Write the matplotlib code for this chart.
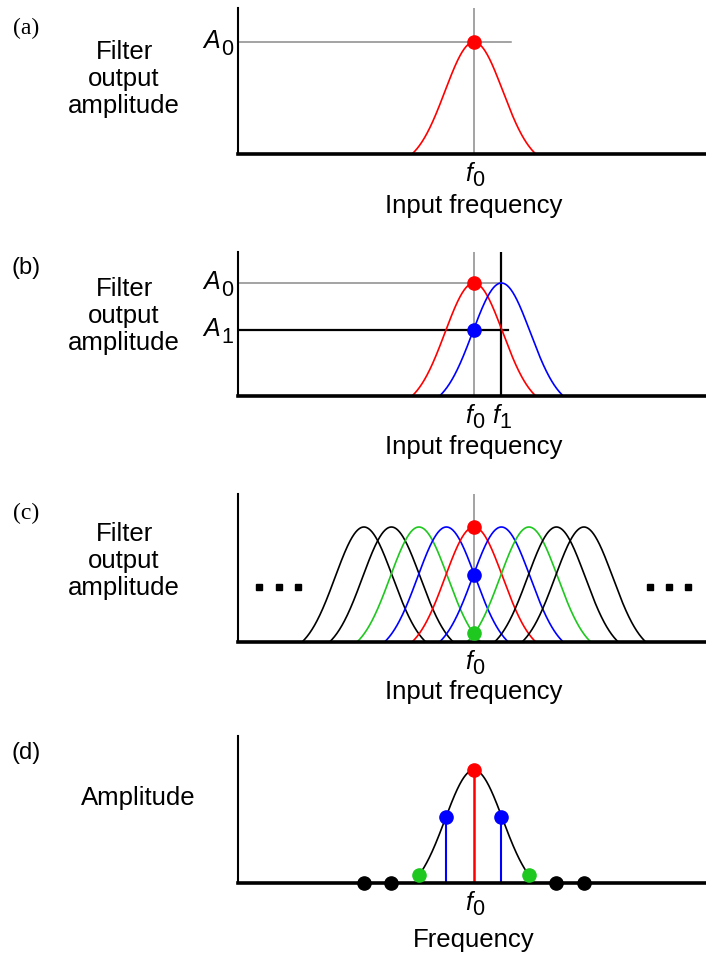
import numpy as np
import matplotlib
matplotlib.use("Agg")
from matplotlib import pyplot as plt
from matplotlib import transforms

plt.rcParams['font.family'] = ['Liberation Sans', 'DejaVu Sans']

RED, BLUE, GREEN, GREY = '#ff0000', '#0000ff', '#1ec81e', '#8a8a8a'

# frequencies in units of the filter spacing, f0 = 0
centres_b = [0, 1]
colours_b = [RED, BLUE]
A1 = 0.58

centres_c = [-4, -3, -2, -1, 0, 1, 2, 3, 4]
colours_c = ['black', 'black', GREEN, BLUE, RED, BLUE, GREEN, 'black', 'black']

# filter outputs at f0 (panel c)
out_amps = [1.0, 0.58, 0.075]
out_cols = [RED, BLUE, GREEN]

# output spectrum (panel d)
harm_freqs = [-4, -3, -2, -1, 0, 1, 2, 3, 4]
harm_amps = [0, 0, 0.075, 0.58, 1.0, 0.58, 0.075, 0, 0]
harm_cols = ['black', 'black', GREEN, BLUE, RED, BLUE, GREEN, 'black', 'black']

ellipsis_x = [-7.8, -7.1, -6.4, 6.4, 7.1, 7.8]
ellipsis_y = 0.48

# filter shape: width and where it meets the axis
sigma = 1.05
support = 2.25


def response(fc, lo=None, hi=None):
    lo = fc - support if lo is None else lo
    hi = fc + support if hi is None else hi
    x = np.linspace(lo, hi, 300)
    base = np.exp(-support**2 / (2 * sigma**2))
    y = (np.exp(-(x - fc)**2 / (2 * sigma**2)) - base) / (1 - base)
    return x, y


W, H = 706, 955
fig = plt.figure(figsize=(W / 100, H / 100), dpi=100)


def make_ax(top_px, axis_px, peak_px):
    ax = fig.add_axes([238 / W, 1 - axis_px / H, 1 - 238 / W, (axis_px - top_px) / H])
    ax.set_xlim(-8.58, 8.44)
    ax.set_ylim(0, (axis_px - top_px) / (axis_px - peak_px))
    for s in ['top', 'right']:
        ax.spines[s].set_visible(False)
    ax.spines['left'].set_linewidth(1.5)
    ax.spines['bottom'].set_linewidth(2.6)
    ax.set_xticks([])
    ax.set_yticks([])
    return ax


def sym(ax, trans, x, y, main, sub, dx, dy, sdx, sdy, ha):
    # italic letter with a large upright subscript, offsets in pixels
    t = transforms.offset_copy(trans, fig=fig, x=dx, y=-dy, units='dots')
    ax.text(x, y, main, transform=t, ha=ha, va='baseline', fontsize=18,
            style='italic', clip_on=False)
    t = transforms.offset_copy(trans, fig=fig, x=sdx, y=-sdy, units='dots')
    ax.text(x, y, sub, transform=t, ha='left', va='baseline', fontsize=15.5,
            clip_on=False)


def xsym(ax, x, main, sub):
    tr = ax.get_xaxis_transform()
    sym(ax, tr, x, 0, main, sub, -2, 27, -2, 32, 'right')


def ysym(ax, y, main, sub):
    tr = ax.get_yaxis_transform()
    sym(ax, tr, 0, y, main, sub, -18, 6, -17, 13, 'right')


def ftext(x, y, s, **kw):
    kw.setdefault('fontsize', 18.5)
    fig.text(x / W, 1 - y / H, s, ha='center', va='center', **kw)


dot = dict(marker='o', markersize=9.5, clip_on=False, zorder=5, linestyle='none')
left_label = 'Filter\noutput\namplitude'

# (a)
ax = make_ax(8, 154, 42)
ax.axvline(0, color=GREY, lw=1.1, zorder=1)
ax.plot([-8.58, 1.35], [1, 1], color=GREY, lw=1.1, zorder=1)
x, y = response(0)
ax.plot(x, y, color=RED, lw=1.2)
ax.plot([0], [1], color=RED, **dot)
xsym(ax, 0, 'f', '0')
ysym(ax, 1, 'A', '0')
ftext(474, 206, 'Input frequency')
ftext(26, 28, '(a)', family='Liberation Serif', fontsize=17)
ftext(124, 79, left_label, linespacing=1.17)

# (b)
ax = make_ax(252, 396, 283)
ax.axvline(0, color=GREY, lw=1.1, zorder=1)
ax.axvline(centres_b[1], color='black', lw=1.6, zorder=1)
ax.plot([-8.58, centres_b[1]], [1, 1], color=GREY, lw=1.1, zorder=1)
ax.plot([-8.58, 1.24], [A1, A1], color='black', lw=1.6, zorder=1)
for c, col in zip(centres_b, colours_b):
    x, y = response(c)
    ax.plot(x, y, color=col, lw=1.2)
ax.plot([0], [1], color=RED, **dot)
ax.plot([0], [A1], color=BLUE, **dot)
xsym(ax, centres_b[0], 'f', '0')
xsym(ax, centres_b[1], 'f', '1')
ysym(ax, 1, 'A', '0')
ysym(ax, A1, 'A', '1')
ftext(474, 447, 'Input frequency')
ftext(26, 268, '(b)', fontsize=17)
ftext(124, 316, left_label, linespacing=1.17)

# (c)
ax = make_ax(494, 642, 527)
ax.axvline(0, color=GREY, lw=1.1, zorder=1)
for c, col in zip(centres_c, colours_c):
    x, y = response(c)
    ax.plot(x, y, color=col, lw=1.2)
for a, col in zip(out_amps, out_cols):
    ax.plot([0], [a], color=col, **dot)
ax.plot(ellipsis_x, [ellipsis_y] * len(ellipsis_x), marker='s', markersize=4,
        color='black', linestyle='none', clip_on=False)
xsym(ax, 0, 'f', '0')
ftext(474, 692, 'Input frequency')
ftext(26, 513, '(c)', family='Liberation Serif', fontsize=17)
ftext(124, 561, left_label, linespacing=1.17)

# (d)
ax = make_ax(736, 883, 770)
x, y = response(0, harm_freqs[2], harm_freqs[-3])
ax.plot(x, y, color='black', lw=1.2)
for f, a, col in zip(harm_freqs, harm_amps, harm_cols):
    if a > 0.3:
        ax.plot([f, f], [0, a], color=col, lw=1.5 if col == BLUE else 1.8, zorder=2)
    ax.plot([f], [a], color=col, **dot)
xsym(ax, 0, 'f', '0')
ftext(474, 940, 'Frequency')
ftext(26, 753, '(d)', fontsize=17)
ftext(138, 798, 'Amplitude')

fig.savefig('out.png', dpi=100)
